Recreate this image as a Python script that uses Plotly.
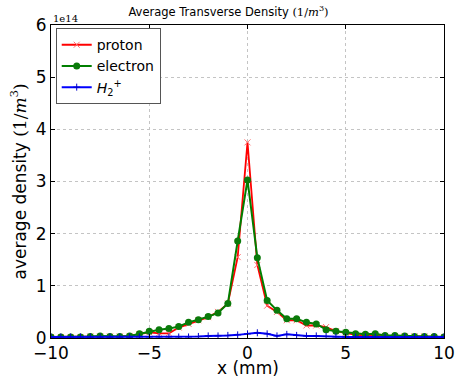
import numpy as np
import plotly.graph_objects as go

x_mm = [-10, -9.5, -9, -8.5, -8, -7.5, -7, -6.5, -6, -5.5, -5, -4.5, -4, -3.5, -3, -2.5, -2, -1.5, -1, -0.5,
        0, 0.5, 1, 1.5, 2, 2.5, 3, 3.5, 4, 4.5, 5, 5.5, 6, 6.5, 7, 7.5, 8, 8.5, 9, 9.5, 10]

# densities in units of 1e14 1/m^3
proton = [0.02, 0.02, 0.02, 0.02, 0.03, 0.03, 0.03, 0.03, 0.04, 0.07, 0.11, 0.09, 0.09, 0.20, 0.27, 0.34, 0.40, 0.50, 0.66, 1.55,
          3.75, 1.40, 0.62, 0.50, 0.34, 0.34, 0.24, 0.24, 0.21, 0.13, 0.10, 0.06, 0.05, 0.06, 0.04, 0.04, 0.03, 0.03, 0.03, 0.02, 0.02]
electron = [0.02, 0.02, 0.02, 0.02, 0.03, 0.04, 0.03, 0.03, 0.04, 0.08, 0.13, 0.16, 0.18, 0.22, 0.30, 0.35, 0.41, 0.48, 0.66, 1.86,
            3.03, 1.54, 0.72, 0.53, 0.37, 0.37, 0.30, 0.27, 0.16, 0.13, 0.11, 0.08, 0.07, 0.08, 0.05, 0.05, 0.04, 0.03, 0.03, 0.03, 0.02]
h2plus = [0.02, 0.02, 0.02, 0.02, 0.02, 0.02, 0.02, 0.02, 0.02, 0.02, 0.02, 0.02, 0.02, 0.02, 0.02, 0.03, 0.04, 0.04, 0.05, 0.06,
          0.08, 0.10, 0.08, 0.04, 0.07, 0.05, 0.04, 0.04, 0.03, 0.02, 0.02, 0.02, 0.02, 0.02, 0.02, 0.02, 0.02, 0.02, 0.02, 0.02, 0.02]

scale = 1e14
x_ticks = [-10, -5, 0, 5, 10]
y_ticks = [0, 1, 2, 3, 4, 5, 6]

font = "DejaVu Sans"
serif = "DejaVu Serif"

fig = go.Figure()
fig.add_trace(go.Scatter(
    x=x_mm, y=np.array(proton) * scale, name="proton", mode="lines+markers",
    line=dict(color="#ff0000", width=1.8),
    marker=dict(symbol="x-thin", size=6, line=dict(color="#ff7070", width=1), color="#ff7070"),
))
fig.add_trace(go.Scatter(
    x=x_mm, y=np.array(electron) * scale, name="electron", mode="lines+markers",
    line=dict(color="#007f00", width=2),
    marker=dict(symbol="circle", size=7, color="#0a7a0a"),
))
fig.add_trace(go.Scatter(
    x=x_mm, y=np.array(h2plus) * scale, name="<i>H</i><sub>2</sub><sup>+</sup>", mode="lines+markers",
    line=dict(color="#0000ff", width=2),
    marker=dict(symbol="cross-thin", size=5, line=dict(color="#0000cc", width=1), color="#0000cc"),
))

fig.update_layout(
    width=457, height=378,
    margin=dict(l=51, r=13, t=25, b=40),
    paper_bgcolor="white", plot_bgcolor="white",
    font=dict(family=font, color="black"),
    showlegend=True,
    legend=dict(x=0.012, y=0.99, xanchor="left", yanchor="top",
                bordercolor="#555555", borderwidth=1, bgcolor="white",
                font=dict(size=14, family=font), tracegroupgap=0, itemwidth=30),
    title=dict(text="Average Transverse Density <span style='font-family:DejaVu Serif'>(1/<i>m</i><sup>3</sup>)</span>",
               x=0.5, xanchor="center", y=0.968, yanchor="middle", font=dict(size=11.5, family=font)),
)
fig.update_xaxes(
    range=[-10, 10], tickvals=x_ticks, ticks="inside", ticklen=4, tickcolor="black",
    showline=True, linecolor="black", linewidth=1, mirror="ticks", automargin=False,
    showgrid=True, gridcolor="#c4c4c4", griddash="dot", gridwidth=1, zeroline=False,
    tickfont=dict(size=17, family=font),
)
fig.update_yaxes(
    range=[0, 6 * scale], tickvals=[v * scale for v in y_ticks], ticktext=[str(v) for v in y_ticks],
    ticks="inside", ticklen=4, tickcolor="black", automargin=False,
    showline=True, linecolor="black", linewidth=1, mirror="ticks",
    showgrid=True, gridcolor="#c4c4c4", griddash="dot", gridwidth=1, zeroline=False,
    tickfont=dict(size=17, family=font),
)
fig.add_annotation(text="average density <span style='font-family:DejaVu Serif'>(1/<i>m</i><sup>3</sup>)</span>",
                   xref="paper", yref="paper", x=0, y=0.5, xanchor="center", yanchor="middle", textangle=-90,
                   showarrow=False, font=dict(size=17, family=font), xshift=-33)
fig.add_annotation(text="x (mm)", xref="paper", yref="paper", x=0.5, y=0, xanchor="center", yanchor="middle",
                   showarrow=False, font=dict(size=17, family=font), yshift=-30)
fig.add_annotation(text="1e14", xref="paper", yref="paper", x=0.0, y=1.0, xanchor="left", yanchor="bottom",
                   showarrow=False, font=dict(size=10, family=serif), yshift=-1)
fig.write_html("out.html", config={"displayModeBar": False},
               post_script="document.body.style.margin='0';document.body.style.overflow='hidden';")
